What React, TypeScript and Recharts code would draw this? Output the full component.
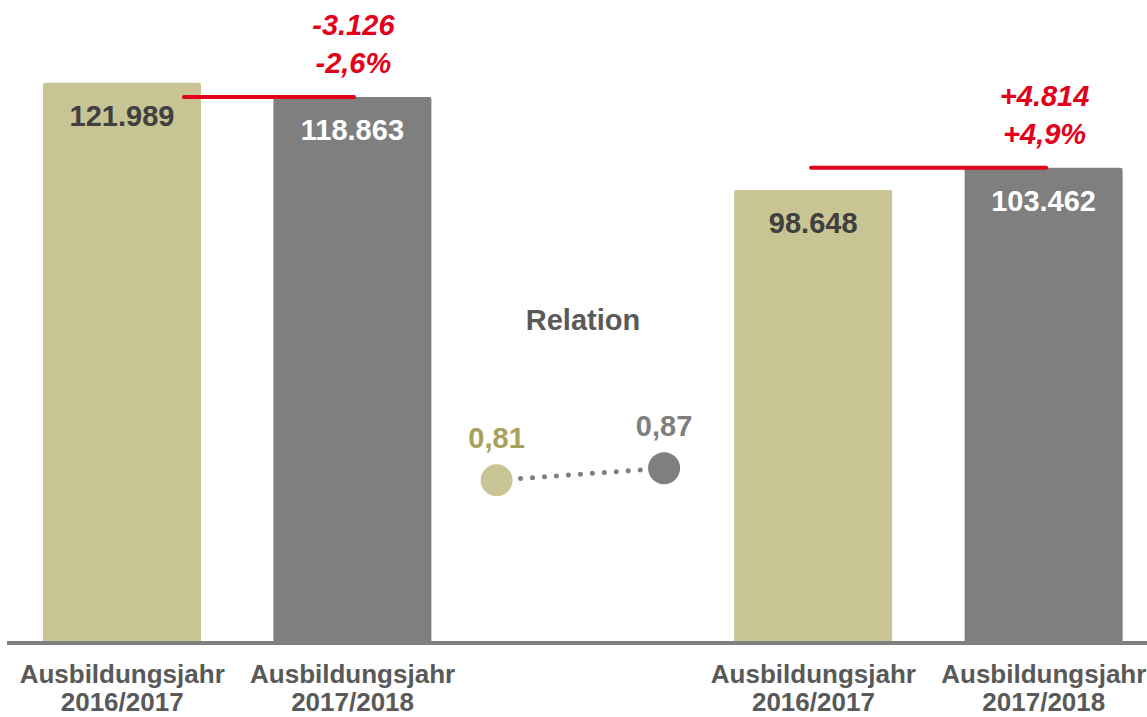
import React from 'react';
import {
  ComposedChart,
  Bar,
  Cell,
  Line,
  XAxis,
  YAxis,
  ReferenceLine,
  ReferenceDot,
  LabelList,
} from 'recharts';

// slots on the category axis: two years, a gap for the relation, two years
const slots = ['a1', 'a2', 'rel', 'b1', 'b2'];
const axisTitle = 'Ausbildungsjahr';
const yearLabels = ['2016/2017', '2017/2018', '', '2016/2017', '2017/2018'];
const slotYear = ['old', 'new', '', 'old', 'new'];
const applicants = [121989, 118863, null, 98648, 103462];
const changeAbs = ['', '-3.126', '', '', '+4.814'];
const changePct = ['', '-2,6%', '', '', '+4,9%'];
const relationYear = ['old', 'new'];
const relationValues = [0.81, 0.87];
const relationLabels = ['0,81', '0,87'];
const relationTitle = 'Relation';

const GOLD = '#C8C493';
const GRAY = '#7F7F7F';
const RED = '#E2001A';
const TEXT = '#595959';
const FONT = '"Liberation Sans", Arial, sans-serif';

// horizontal layout on the hidden numeric axis (1 unit = one slot)
const REL_X = [2.125, 2.852];
const CHANGE_LINES = [
  { x1: 0.768, x2: 1.506, slot: 1 },
  { x1: 3.49, x2: 4.51, slot: 4 },
];

const data = slots.map((slot, i) => ({ slot, value: applicants[i] }));
const relData = relationValues.map((rel, i) => ({ x: REL_X[i], rel }));

const fmt = (v: number) => String(v).replace(/\B(?=(\d{3})+(?!\d))/g, '.');

const XTick = ({ x, y, payload }: any) => {
  const i = slots.indexOf(payload.value);
  if (!yearLabels[i]) return null;
  return (
    <g fill={TEXT} fontFamily={FONT} fontWeight="bold" fontSize={26}>
      <text x={x} y={y + 40} textAnchor="middle">{axisTitle}</text>
      <text x={x} y={y + 68} textAnchor="middle">{yearLabels[i]}</text>
    </g>
  );
};

// LabelList on slot names, so empty slots don't shift the lookup
const ValueLabel = ({ x, y, width, value }: any) => {
  const i = slots.indexOf(value);
  if (applicants[i] == null) return null;
  return (
    <text
      x={x + width / 2}
      y={y + 43}
      textAnchor="middle"
      fill={slotYear[i] === 'old' ? '#404040' : '#FFFFFF'}
      fontFamily={FONT}
      fontWeight="bold"
      fontSize={29}
    >
      {fmt(applicants[i] as number)}
    </text>
  );
};

const ChangeLabel = ({ x, y, width, value }: any) => {
  const i = slots.indexOf(value);
  if (!changeAbs[i]) return null;
  const cx = x + width / 2 + 1;
  return (
    <g fill={RED} fontFamily={FONT} fontWeight="bold" fontStyle="italic" fontSize={29}>
      <text x={cx} y={y - 62} textAnchor="middle">{changeAbs[i]}</text>
      <text x={cx} y={y - 24} textAnchor="middle">{changePct[i]}</text>
    </g>
  );
};

const RelDot = ({ cx, cy, index }: any) => (
  <circle cx={cx} cy={cy} r={16} fill={relationYear[index] === 'old' ? GOLD : GRAY} />
);

const RelLabel = ({ x, y, index }: any) => (
  <text
    x={x}
    y={y - 32}
    textAnchor="middle"
    fill={relationYear[index] === 'old' ? '#A8A15A' : GRAY}
    fontFamily={FONT}
    fontWeight="bold"
    fontSize={29}
  >
    {relationLabels[index]}
  </text>
);

const RelTitle = ({ viewBox }: any) => (
  <text
    x={viewBox.x}
    y={viewBox.y}
    textAnchor="middle"
    fill={TEXT}
    fontFamily={FONT}
    fontWeight="bold"
    fontSize={29}
  >
    {relationTitle}
  </text>
);

export default function App() {
  return (
    <div style={{ position: 'absolute', left: 0, top: 0, width: 1147, height: 717, overflow: 'hidden', background: '#fff' }}>
      <ComposedChart width={1160} height={717} data={data} margin={{ top: 0, right: 1, bottom: 0, left: 7 }}>
        <XAxis
          xAxisId="cat"
          dataKey="slot"
          type="category"
          height={74}
          axisLine={{ stroke: '#808080', strokeWidth: 4 }}
          tickLine={false}
          tickSize={0}
          tickMargin={0}
          interval={0}
          tick={<XTick />}
        />
        <XAxis xAxisId="num" dataKey="x" type="number" domain={[0, 5]} allowDataOverflow hide />
        <YAxis yAxisId="val" domain={[0, 140000]} allowDataOverflow hide />
        <YAxis yAxisId="rel" domain={[0, 3.2]} allowDataOverflow hide />
        <Bar xAxisId="cat" yAxisId="val" dataKey="value" barSize={158} radius={[2, 2, 0, 0]} isAnimationActive={false}>
          {data.map((d, i) => (
            <Cell key={d.slot} fill={slotYear[i] === 'old' ? GOLD : GRAY} />
          ))}
          <LabelList dataKey="slot" content={<ValueLabel />} />
          <LabelList dataKey="slot" content={<ChangeLabel />} />
        </Bar>
        {CHANGE_LINES.map((l) => (
          <ReferenceLine
            key={l.slot}
            xAxisId="num"
            yAxisId="val"
            segment={[
              { x: l.x1, y: applicants[l.slot] as number },
              { x: l.x2, y: applicants[l.slot] as number },
            ]}
            stroke={RED}
            strokeWidth={4}
            strokeLinecap="round"
            ifOverflow="visible"
          />
        ))}
        <Line
          xAxisId="num"
          yAxisId="rel"
          data={relData}
          dataKey="rel"
          stroke={GRAY}
          strokeWidth={5}
          strokeDasharray="0 12"
          strokeLinecap="round"
          dot={<RelDot />}
          activeDot={false}
          isAnimationActive={false}
        >
          <LabelList dataKey="rel" content={<RelLabel />} />
        </Line>
        <ReferenceDot
          xAxisId="num"
          yAxisId="rel"
          x={2.5}
          y={1.56}
          r={0}
          fill="none"
          stroke="none"
          ifOverflow="visible"
          label={<RelTitle />}
        />
      </ComposedChart>
    </div>
  );
}
